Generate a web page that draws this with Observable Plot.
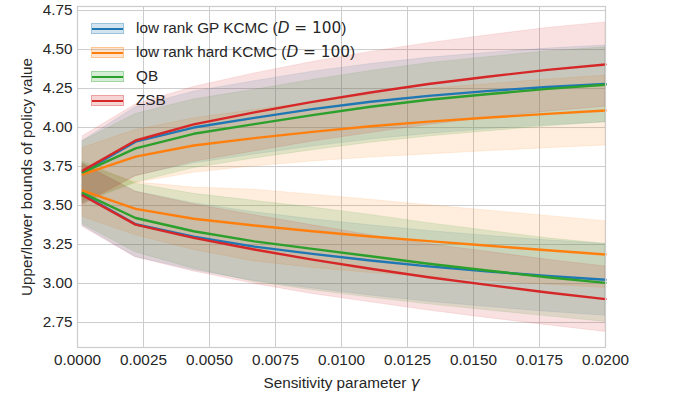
<!DOCTYPE html>
<html>
<head>
<meta charset="utf-8">
<script src="https://cdn.jsdelivr.net/npm/d3@7"></script>
<script src="https://cdn.jsdelivr.net/npm/@observablehq/plot@0.6"></script>
<style>
  html, body { margin: 0; padding: 0; background: #fff; }
  #wrap { position: relative; width: 673px; height: 405px; font-family: "Liberation Sans", Arial, sans-serif; }
  #legend { position: absolute; left: 91px; top: 16px; font-size: 15.3px; color: #262626; }
  .row { display: flex; align-items: center; height: 24px; }
  .sw { position: relative; width: 33px; height: 11px; margin-right: 12px; box-sizing: border-box; }
  .sw .ln { position: absolute; left: 0; right: 0; top: 4px; height: 2.5px; }
  .math { font-family: "DejaVu Sans", sans-serif; }
</style>
</head>
<body>
<div id="wrap"><div id="chart"></div><div id="legend"></div></div>
<script>
// sensitivity parameter values
const gammas = [0.0002, 0.0022, 0.0044, 0.0067, 0.0089, 0.0111, 0.0133, 0.0156, 0.0178, 0.02];
const seriesNames = ["low rank GP KCMC (D = 100)", "low rank hard KCMC (D = 100)", "QB", "ZSB"];
const seriesColors = ["#1f77b4", "#ff7f0e", "#2ca02c", "#d62728"];
const xTicks = [0, 0.0025, 0.005, 0.0075, 0.01, 0.0125, 0.015, 0.0175, 0.02];
const yTicks = [2.75, 3.0, 3.25, 3.5, 3.75, 4.0, 4.25, 4.5, 4.75];

// upper bounds (mean) and spread
const upperGP   = [3.715, 3.91, 4.00, 4.062, 4.118, 4.165, 4.203, 4.235, 4.26, 4.28];
const upperHard = [3.70, 3.814, 3.885, 3.932, 3.972, 4.008, 4.038, 4.064, 4.088, 4.109];
const upperQB   = [3.713, 3.867, 3.96, 4.022, 4.08, 4.133, 4.178, 4.215, 4.248, 4.274];
const upperZSB  = [3.724, 3.917, 4.02, 4.097, 4.165, 4.225, 4.279, 4.327, 4.37, 4.404];
const upperGPStd   = [0.20, 0.22, 0.23, 0.235, 0.24, 0.242, 0.244, 0.245, 0.246, 0.246];
const upperHardStd = [0.17, 0.17, 0.175, 0.18, 0.19, 0.20, 0.21, 0.215, 0.22, 0.224];
const upperQBStd   = [0.20, 0.22, 0.22, 0.22, 0.225, 0.23, 0.235, 0.238, 0.24, 0.24];
const upperZSBStd  = [0.22, 0.23, 0.24, 0.25, 0.255, 0.26, 0.262, 0.265, 0.268, 0.27];

// lower bounds (mean) and spread
const lowerGP   = [3.57, 3.38, 3.30, 3.237, 3.19, 3.148, 3.11, 3.077, 3.048, 3.024];
const lowerHard = [3.596, 3.479, 3.415, 3.372, 3.335, 3.302, 3.272, 3.242, 3.213, 3.186];
const lowerQB   = [3.58, 3.42, 3.335, 3.27, 3.222, 3.175, 3.127, 3.082, 3.04, 3.004];
const lowerZSB  = [3.564, 3.378, 3.293, 3.218, 3.153, 3.095, 3.04, 2.99, 2.943, 2.90];
const lowerGPStd   = [0.20, 0.21, 0.215, 0.22, 0.222, 0.225, 0.227, 0.228, 0.229, 0.23];
const lowerHardStd = [0.17, 0.17, 0.20, 0.23, 0.235, 0.235, 0.23, 0.225, 0.22, 0.214];
const lowerQBStd   = [0.20, 0.22, 0.24, 0.26, 0.265, 0.265, 0.26, 0.255, 0.25, 0.25];
const lowerZSBStd  = [0.20, 0.21, 0.215, 0.22, 0.22, 0.215, 0.213, 0.212, 0.21, 0.21];

const upper = [upperGP, upperHard, upperQB, upperZSB];
const upperStd = [upperGPStd, upperHardStd, upperQBStd, upperZSBStd];
const lower = [lowerGP, lowerHard, lowerQB, lowerZSB];
const lowerStd = [lowerGPStd, lowerHardStd, lowerQBStd, lowerZSBStd];

const rows = [];
seriesNames.forEach((name, s) => {
  gammas.forEach((g, i) => {
    rows.push({series: name, bound: "upper", key: name + "|upper", x: g, y: upper[s][i], lo: upper[s][i] - upperStd[s][i], hi: upper[s][i] + upperStd[s][i]});
    rows.push({series: name, bound: "lower", key: name + "|lower", x: g, y: lower[s][i], lo: lower[s][i] - lowerStd[s][i], hi: lower[s][i] + lowerStd[s][i]});
  });
});

const color = {domain: seriesNames, range: seriesColors};

const chart = Plot.plot({
  width: 673,
  height: 405,
  marginLeft: 77,
  marginRight: 68,
  marginTop: 6,
  marginBottom: 58,
  style: {fontFamily: "'Liberation Sans', Arial, sans-serif", fontSize: "15.3px", color: "#262626", background: "#fff"},
  color,
  x: {domain: [0, 0.02], ticks: xTicks, tickFormat: d3.format(".4f"), tickSize: 0, tickPadding: 7,
      label: "Sensitivity parameter γ", labelAnchor: "center", labelArrow: "none", labelOffset: 40},
  y: {domain: [2.59, 4.776], ticks: yTicks, tickFormat: d3.format(".2f"), tickSize: 0, tickPadding: 5,
      label: "Upper/lower bounds of policy value", labelAnchor: "center", labelArrow: "none", labelOffset: 56},
  marks: [
    Plot.gridX(xTicks, {stroke: "#cccccc", strokeOpacity: 1, strokeWidth: 1}),
    Plot.gridY(yTicks, {stroke: "#cccccc", strokeOpacity: 1, strokeWidth: 1}),
    Plot.areaY(rows, {x: "x", y1: "lo", y2: "hi", z: "key", fill: "series", fillOpacity: 0.14,
                      stroke: "series", strokeOpacity: 0.1, strokeWidth: 1}),
    Plot.lineY(rows, {x: "x", y: "y", z: "key", stroke: "series", strokeWidth: 2.4}),
    Plot.frame({stroke: "#cccccc", strokeWidth: 1.2})
  ]
});
document.getElementById("chart").appendChild(chart);

// italic gamma in the x label
chart.querySelectorAll("text").forEach(t => {
  if (t.textContent === "Sensitivity parameter γ") {
    t.innerHTML = 'Sensitivity parameter <tspan font-style="italic" font-family="DejaVu Sans">γ</tspan>';
  }
});

// legend
const legend = document.getElementById("legend");
seriesNames.forEach((name, s) => {
  const c = seriesColors[s];
  const row = document.createElement("div");
  row.className = "row";
  const sw = document.createElement("div");
  sw.className = "sw";
  const rgb = d3.rgb(c);
  sw.style.background = `rgba(${rgb.r},${rgb.g},${rgb.b},0.2)`;
  sw.style.border = `1px solid rgba(${rgb.r},${rgb.g},${rgb.b},0.3)`;
  const ln = document.createElement("div");
  ln.className = "ln";
  ln.style.background = c;
  sw.appendChild(ln);
  row.appendChild(sw);
  const label = document.createElement("span");
  const m = name.match(/^(.*)\(D = 100\)$/);
  if (m) {
    label.innerHTML = m[1] + '(<span class="math"><i>D</i> = 100</span>)';
  } else {
    label.textContent = name;
  }
  row.appendChild(label);
  legend.appendChild(row);
});
</script>
</body>
</html>
